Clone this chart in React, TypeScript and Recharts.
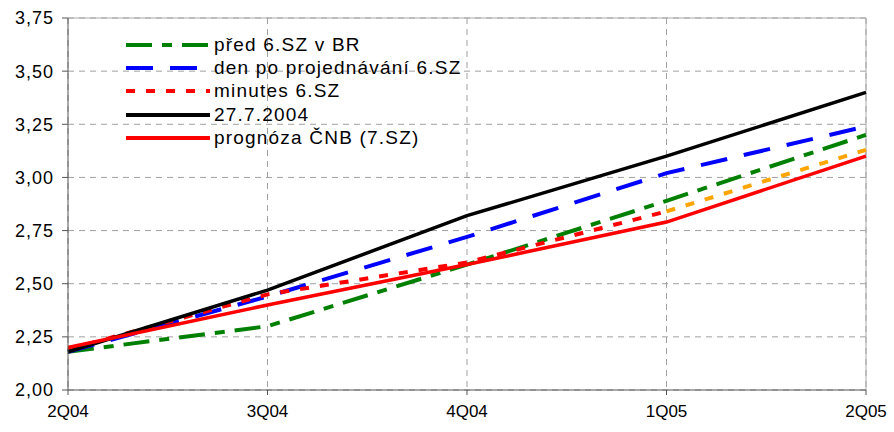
import React from "react";
import {
  LineChart,
  Line,
  CartesianGrid,
  XAxis,
  YAxis,
  ReferenceLine,
} from "recharts";

const quarters = ["2Q04", "3Q04", "4Q04", "1Q05", "2Q05"];
const predBR = [2.18, 2.3, 2.59, 2.89, 3.2];
const denPo = [2.18, 2.44, 2.72, 3.02, 3.24];
const minutes = [2.19, 2.45, 2.6, 2.84, null];
const minutesTail = [null, null, null, 2.84, 3.13];
const july = [2.18, 2.47, 2.82, 3.1, 3.4];
const prognoza = [2.2, 2.4, 2.59, 2.79, 3.1];
const yTicks = [2, 2.25, 2.5, 2.75, 3, 3.25, 3.5, 3.75];

const data = quarters.map((q, i) => ({
  q,
  predBR: predBR[i],
  denPo: denPo[i],
  minutes: minutes[i],
  minutesTail: minutesTail[i],
  july: july[i],
  prognoza: prognoza[i],
}));

const legendItems = [
  { label: "před 6.SZ v BR", color: "#008000", dash: "26 10 10 10" },
  { label: "den po projednávání 6.SZ", color: "#0000ff", dash: "27 17" },
  { label: "minutes 6.SZ", color: "#ff0000", dash: "9 11" },
  { label: "27.7.2004", color: "#000000", dash: undefined },
  { label: "prognóza ČNB (7.SZ)", color: "#ff0000", dash: undefined },
];

const font = "'Liberation Sans', Arial, sans-serif";

function ChartLegend() {
  return (
    <div
      style={{
        position: "absolute",
        left: 126,
        top: 33,
        fontFamily: font,
        fontSize: 19,
        color: "#000",
      }}
    >
      {legendItems.map((it) => (
        <div
          key={it.label}
          style={{ display: "flex", alignItems: "center", height: 23.3, letterSpacing: 1.2 }}
        >
          <svg width={86} height={8} style={{ marginRight: 2 }}>
            <line
              x1={0}
              y1={4}
              x2={84}
              y2={4}
              stroke={it.color}
              strokeWidth={3.8}
              strokeDasharray={it.dash}
            />
          </svg>
          <span>{it.label}</span>
        </div>
      ))}
    </div>
  );
}

export default function App() {
  return (
    <div style={{ position: "absolute", left: 0, top: 0, background: "#fff" }}>
      <LineChart
        width={894}
        height={432}
        data={data}
        margin={{ top: 18, right: 28, bottom: 0, left: 0 }}
      >
        <CartesianGrid stroke="#a0a0a0" strokeDasharray="6 5" />
        <XAxis
          dataKey="q"
          height={42}
          tickSize={5}
          tickMargin={10}
          stroke="#555"
          tick={{ fill: "#000", fontSize: 17, fontFamily: font }}
          interval={0}
        />
        <YAxis
          domain={[2, 3.75]}
          ticks={yTicks}
          width={68}
          tickSize={6}
          tickMargin={8}
          stroke="#555"
          tickFormatter={(v: number) => v.toFixed(2).replace(".", ",")}
          tick={{ fill: "#000", fontSize: 18, fontFamily: font, letterSpacing: 1 }}
        />
        <ReferenceLine y={3.75} stroke="#aaa" />
        <ReferenceLine x="2Q05" stroke="#aaa" />
        <Line
          dataKey="predBR"
          stroke="#008000"
          strokeWidth={4}
          strokeDasharray="26 10 10 10"
          dot={false}
          isAnimationActive={false}
        />
        <Line
          dataKey="denPo"
          stroke="#0000ff"
          strokeWidth={4}
          strokeDasharray="27 17"
          dot={false}
          isAnimationActive={false}
        />
        <Line
          dataKey="minutes"
          stroke="#ff0000"
          strokeWidth={4}
          strokeDasharray="9 11"
          dot={false}
          isAnimationActive={false}
        />
        <Line
          dataKey="minutesTail"
          stroke="#ffa500"
          strokeWidth={4}
          strokeDasharray="9 11"
          dot={false}
          isAnimationActive={false}
        />
        <Line
          dataKey="july"
          stroke="#000000"
          strokeWidth={3.5}
          dot={false}
          isAnimationActive={false}
        />
        <Line
          dataKey="prognoza"
          stroke="#ff0000"
          strokeWidth={3.5}
          dot={false}
          isAnimationActive={false}
        />
      </LineChart>
      <ChartLegend />
    </div>
  );
}
